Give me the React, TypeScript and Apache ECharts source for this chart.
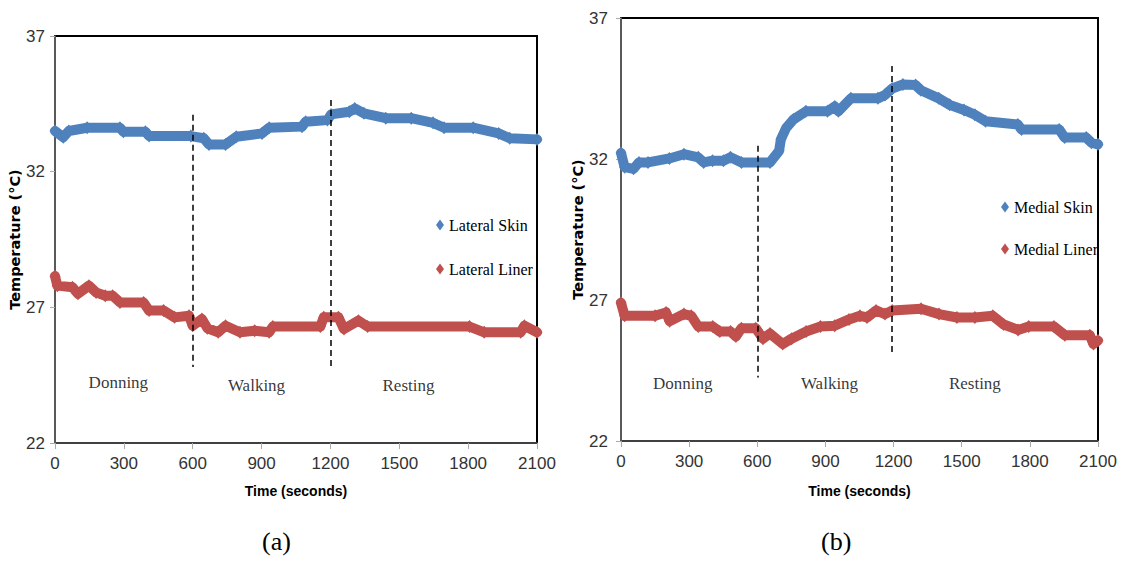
import React, { useEffect, useRef } from "react";
import * as echarts from "echarts";

// Time (s), temperature (°C)
const lateralSkin: [number, number][] = [
  [0, 33.5], [36, 33.27], [60, 33.5], [140, 33.62], [283, 33.62], [298, 33.47], [394, 33.47],
  [410, 33.31], [592, 33.31], [648, 33.23], [671, 33.0], [743, 33.0], [790, 33.29], [902, 33.41],
  [933, 33.62], [1076, 33.66], [1092, 33.84], [1187, 33.9], [1203, 34.11], [1282, 34.21],
  [1306, 34.33], [1346, 34.15], [1441, 33.97], [1552, 33.97], [1647, 33.8], [1695, 33.62],
  [1822, 33.62], [1933, 33.41], [1981, 33.23], [2100, 33.19],
];
const lateralLiner: [number, number][] = [
  [0, 28.15], [10, 27.8], [76, 27.74], [100, 27.5], [148, 27.8], [179, 27.55], [219, 27.43],
  [251, 27.43], [283, 27.18], [386, 27.18], [410, 26.88], [473, 26.88], [521, 26.63], [584, 26.69],
  [600, 26.32], [640, 26.57], [664, 26.23], [711, 26.08], [743, 26.32], [806, 26.08], [870, 26.14],
  [933, 26.08], [949, 26.29], [1156, 26.29], [1171, 26.63], [1235, 26.63], [1259, 26.2],
  [1322, 26.51], [1362, 26.29], [1806, 26.29], [1870, 26.08], [2029, 26.08], [2045, 26.32],
  [2100, 26.08],
];
const medialSkin: [number, number][] = [
  [0, 32.21], [16, 31.71], [55, 31.65], [79, 31.88], [119, 31.88], [213, 32.02], [277, 32.17],
  [340, 32.06], [364, 31.88], [403, 31.94], [451, 31.94], [482, 32.06], [530, 31.88], [656, 31.88],
  [696, 32.29], [704, 32.7], [727, 33.1], [759, 33.4], [814, 33.69], [909, 33.69], [941, 33.86],
  [957, 33.69], [1012, 34.15], [1131, 34.15], [1162, 34.27], [1194, 34.5], [1241, 34.64],
  [1297, 34.62], [1320, 34.44], [1399, 34.15], [1447, 33.92], [1510, 33.74], [1558, 33.57],
  [1605, 33.34], [1747, 33.22], [1763, 33.05], [1929, 33.05], [1953, 32.76], [2048, 32.76],
  [2071, 32.58], [2100, 32.52],
];
const medialLiner: [number, number][] = [
  [0, 26.9], [16, 26.44], [150, 26.44], [198, 26.56], [214, 26.25], [277, 26.5], [309, 26.44],
  [340, 26.06], [404, 26.06], [435, 25.88], [482, 25.88], [506, 25.71], [530, 26.0], [593, 26.0],
  [625, 25.63], [656, 25.81], [712, 25.44], [751, 25.63], [815, 25.88], [878, 26.06], [941, 26.09],
  [1004, 26.31], [1052, 26.44], [1083, 26.38], [1123, 26.63], [1162, 26.5], [1194, 26.63],
  [1321, 26.69], [1400, 26.5], [1479, 26.38], [1558, 26.38], [1637, 26.44], [1685, 26.13],
  [1748, 25.94], [1795, 26.06], [1906, 26.06], [1954, 25.75], [2064, 25.75], [2080, 25.44],
  [2100, 25.56],
];

const phaseNames = ["Donning", "Walking", "Resting"];
const lateralPhasePos: [number, number][] = [[276, 24.22], [878, 24.12], [1540, 24.12]];
const medialPhasePos: [number, number][] = [[272, 24.05], [918, 24.05], [1558, 24.05]];
// [time, top temperature, bottom temperature]
const lateralDividers: [number, number, number][] = [[600, 34.1, 24.8], [1200, 34.64, 24.72]];
const medialDividers: [number, number, number][] = [[600, 32.47, 24.25], [1190, 35.3, 25.03]];

const lateralNames = ["Lateral Skin", "Lateral Liner"];
const medialNames = ["Medial Skin", "Medial Liner"];

const BLUE = "#4F81BD";
const RED = "#C0504D";
const SANS = "'Liberation Sans', Arial, sans-serif";
const SERIF = "'Liberation Serif', 'DejaVu Serif', serif";

function xAxisOpt(gridIndex: number, nameGap: number) {
  return {
    gridIndex,
    type: "value",
    min: 0,
    max: 2100,
    interval: 300,
    axisLine: { show: true, lineStyle: { color: "#555", width: 1.5 } },
    axisTick: { show: true, length: 6, lineStyle: { color: "#aaa", width: 1 } },
    axisLabel: { margin: 12, fontSize: 17, color: "#333", fontFamily: SANS, formatter: (v: number) => String(v) },
    splitLine: { show: false },
    name: "Time (seconds)",
    nameLocation: "middle",
    nameGap,
    nameTextStyle: { fontWeight: "bold", fontSize: 14, fontFamily: SANS, color: "#000" },
  };
}

function yAxisOpt(gridIndex: number, labelMargin: number, nameGap: number) {
  return {
    gridIndex,
    type: "value",
    min: 22,
    max: 37,
    interval: 5,
    axisLine: { show: true, lineStyle: { color: "#777", width: 1.5 } },
    axisTick: { show: true, length: 5, lineStyle: { color: "#aaa", width: 1 } },
    axisLabel: { margin: labelMargin, fontSize: 17, color: "#333", fontFamily: SANS },
    splitLine: { show: false },
    name: "Temperature (°C)",
    nameLocation: "middle",
    nameGap,
    nameTextStyle: { fontWeight: "bold", fontSize: 14.5, fontFamily: "'DejaVu Sans', sans-serif", color: "#000" },
  };
}

function dataSeries(name: string, data: [number, number][], color: string, idx: number, dividers?: [number, number, number][]) {
  const s: any = {
    name,
    type: "line",
    xAxisIndex: idx,
    yAxisIndex: idx,
    data,
    symbol: "diamond",
    symbolSize: [11, 13],
    showAllSymbol: true,
    itemStyle: { color },
    lineStyle: { color, width: 10, join: "round", cap: "round" },
    silent: true,
    z: 2,
  };
  if (dividers) {
    s.markLine = {
      silent: true,
      symbol: ["none", "none"],
      label: { show: false },
      lineStyle: { type: [6, 4], color: "#000", width: 1.5 },
      data: dividers.map((d) => [{ coord: [d[0], d[1]] }, { coord: [d[0], d[2]] }]),
    };
  }
  return s;
}

function phaseSeries(pos: [number, number][], idx: number) {
  return {
    type: "scatter",
    xAxisIndex: idx,
    yAxisIndex: idx,
    data: pos.map((p, i) => [p[0], p[1], phaseNames[i]]),
    symbol: "circle",
    symbolSize: 1,
    itemStyle: { color: "rgba(0,0,0,0)" },
    silent: true,
    label: {
      show: true,
      position: "inside",
      formatter: (p: any) => p.data[2],
      fontFamily: SERIF,
      fontSize: 17,
      color: "#000",
    },
  };
}

function legendOpt(data: string[], left: number, top: number, itemGap: number) {
  return {
    data,
    orient: "vertical",
    left,
    top,
    itemGap,
    icon: "diamond",
    itemWidth: 8,
    itemHeight: 11,
    selectedMode: false,
    textStyle: { fontFamily: SERIF, fontSize: 16, color: "#000" },
  };
}

export default function App() {
  const ref = useRef<HTMLDivElement>(null);
  useEffect(() => {
    if (!ref.current) return;
    const chart = echarts.init(ref.current, undefined, { renderer: "svg" });
    chart.setOption({
      animation: false,
      backgroundColor: "#fff",
      grid: [
        { left: 55, top: 36, width: 482, height: 407, show: true, borderColor: "#000", borderWidth: 2 },
        { left: 621, top: 18, width: 477, height: 423, show: true, borderColor: "#000", borderWidth: 2 },
      ],
      xAxis: [xAxisOpt(0, 41), xAxisOpt(1, 43)],
      yAxis: [yAxisOpt(0, 10, 30), yAxisOpt(1, 13, 33)],
      legend: [legendOpt(lateralNames, 431, 212, 28), legendOpt(medialNames, 996, 194, 26)],
      series: [
        dataSeries(lateralNames[0], lateralSkin, BLUE, 0, lateralDividers),
        dataSeries(lateralNames[1], lateralLiner, RED, 0),
        phaseSeries(lateralPhasePos, 0),
        dataSeries(medialNames[0], medialSkin, BLUE, 1, medialDividers),
        dataSeries(medialNames[1], medialLiner, RED, 1),
        phaseSeries(medialPhasePos, 1),
      ],
      graphic: [
        { type: "text", left: 262, top: 528, style: { text: "(a)", fontFamily: SERIF, fontSize: 26, fill: "#000" } },
        { type: "text", left: 821, top: 528, style: { text: "(b)", fontFamily: SERIF, fontSize: 26, fill: "#000" } },
      ],
    });
    return () => chart.dispose();
  }, []);
  return <div ref={ref} style={{ position: "fixed", left: 0, top: 0, width: 1125, height: 563 }} />;
}
